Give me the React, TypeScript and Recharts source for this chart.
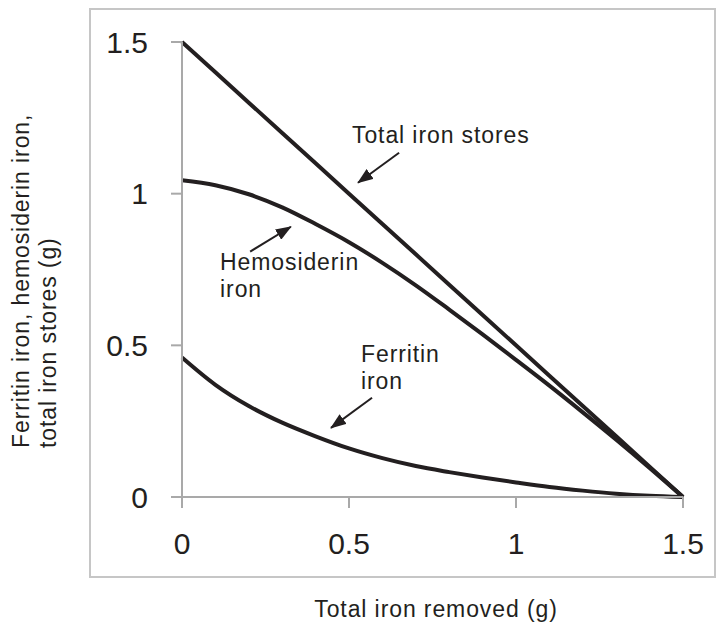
import React from 'react';
import { LineChart, Line, XAxis, YAxis, ReferenceLine, ReferenceDot } from 'recharts';

const removed = [0, 0.1, 0.2, 0.3, 0.4, 0.5, 0.6, 0.7, 0.8, 0.9, 1.0, 1.1, 1.2, 1.3, 1.4, 1.5];
const totalStores = [1.5, 1.4, 1.3, 1.2, 1.1, 1.0, 0.9, 0.8, 0.7, 0.6, 0.5, 0.4, 0.3, 0.2, 0.1, 0];
const hemosiderinIron = [1.044, 1.028, 0.998, 0.955, 0.9, 0.84, 0.772, 0.698, 0.618, 0.536, 0.452, 0.367, 0.279, 0.189, 0.096, 0];
const ferritinIron = [0.46, 0.37, 0.3, 0.245, 0.2, 0.16, 0.128, 0.102, 0.082, 0.064, 0.048, 0.033, 0.021, 0.011, 0.004, 0];
const xTicks = [0, 0.5, 1, 1.5];
const yTicks = [0, 0.5, 1, 1.5];
const xTickLabels = ['0', '0.5', '1', '1.5'];
const yTickLabels = ['0', '0.5', '1', '1.5'];

const annotations = [
  { lines: ['Total iron stores'], x: 0.509, y: 1.168 },
  { lines: ['Hemosiderin', 'iron'], x: 0.114, y: 0.749 },
  { lines: ['Ferritin', 'iron'], x: 0.536, y: 0.446 },
];
const arrows = [
  { from: { x: 0.65, y: 1.135 }, to: { x: 0.527, y: 1.036 } },
  { from: { x: 0.204, y: 0.809 }, to: { x: 0.326, y: 0.891 } },
  { from: { x: 0.569, y: 0.327 }, to: { x: 0.446, y: 0.228 } },
];

const data = removed.map((x, i) => ({
  x,
  total: totalStores[i],
  hemo: hemosiderinIron[i],
  ferr: ferritinIron[i],
}));

const FONT = '"Liberation Sans", Arial, Helvetica, sans-serif';
const INK = '#231f20';
const AXIS = '#a9a9a9';
const LABEL_SIZE = 23;
const LABEL_SPACING = 0.9;

const fmt = (labels: string[], ticks: number[]) => (v: number) => {
  const i = ticks.indexOf(v);
  return i >= 0 ? labels[i] : String(v);
};

const AnnotationShape = (lines: string[]) => (props: any) => (
  <text
    x={props.cx}
    y={props.cy}
    fontFamily={FONT}
    fontSize={LABEL_SIZE}
    letterSpacing={LABEL_SPACING}
    fill={INK}
  >
    {lines.map((l, i) => (
      <tspan key={i} x={props.cx} dy={i === 0 ? 0 : 27}>
        {l}
      </tspan>
    ))}
  </text>
);

export default function App() {
  return (
    <div style={{ position: 'absolute', left: 0, top: 0, width: 720, height: 626, background: '#fff' }}>
      <div
        style={{
          position: 'absolute',
          left: 89,
          top: 8,
          width: 627,
          height: 570,
          border: '2px solid #c6c6c6',
          boxSizing: 'border-box',
        }}
      />
      <div style={{ position: 'absolute', left: 0, top: 0 }}>
        <LineChart
          width={720}
          height={626}
          data={data}
          margin={{ top: 42, right: 37, bottom: 69, left: 100 }}
        >
          <defs>
            <marker
              id="arrowHead"
              markerWidth={16}
              markerHeight={12}
              refX={15}
              refY={6}
              orient="auto"
              markerUnits="userSpaceOnUse"
            >
              <path d="M0,0 L16,6 L0,12 z" fill={INK} />
            </marker>
          </defs>
          <XAxis
            dataKey="x"
            type="number"
            domain={[0, 1.5]}
            ticks={xTicks}
            tickFormatter={fmt(xTickLabels, xTicks)}
            height={60}
            tickSize={11}
            tickMargin={25}
            stroke={AXIS}
            strokeWidth={2}
            tick={{ fill: INK, fontSize: 30, fontFamily: FONT }}
            label={{
              content: () => (
                <text
                  x={436}
                  y={617}
                  textAnchor="middle"
                  fontFamily={FONT}
                  fontSize={LABEL_SIZE}
                  letterSpacing={LABEL_SPACING}
                  fill={INK}
                >
                  Total iron removed (g)
                </text>
              ),
            }}
          />
          <YAxis
            type="number"
            domain={[0, 1.5]}
            ticks={yTicks}
            tickFormatter={fmt(yTickLabels, yTicks)}
            width={82}
            tickSize={11}
            tickMargin={23}
            stroke={AXIS}
            strokeWidth={2}
            tick={{ fill: INK, fontSize: 30, fontFamily: FONT }}
            label={{
              content: () => (
                <g>
                  <text
                    transform="translate(29,448) rotate(-90)"
                    fontFamily={FONT}
                    fontSize={LABEL_SIZE}
                    letterSpacing={LABEL_SPACING}
                    fill={INK}
                  >
                    Ferritin iron, hemosiderin iron,
                  </text>
                  <text
                    transform="translate(56,448) rotate(-90)"
                    fontFamily={FONT}
                    fontSize={LABEL_SIZE}
                    letterSpacing={LABEL_SPACING}
                    fill={INK}
                  >
                    total iron stores (g)
                  </text>
                </g>
              ),
            }}
          />
          <Line
            dataKey="total"
            type="linear"
            stroke={INK}
            strokeWidth={4}
            dot={false}
            isAnimationActive={false}
          />
          <Line
            dataKey="hemo"
            type="monotone"
            stroke={INK}
            strokeWidth={4}
            dot={false}
            isAnimationActive={false}
          />
          <Line
            dataKey="ferr"
            type="monotone"
            stroke={INK}
            strokeWidth={4}
            dot={false}
            isAnimationActive={false}
          />
          {arrows.map((a, i) => (
            <ReferenceLine
              key={'a' + i}
              segment={[a.from, a.to]}
              stroke={INK}
              strokeWidth={2}
              markerEnd="url(#arrowHead)"
              ifOverflow="visible"
            />
          ))}
          {annotations.map((a, i) => (
            <ReferenceDot
              key={'t' + i}
              x={a.x}
              y={a.y}
              r={0}
              ifOverflow="visible"
              shape={AnnotationShape(a.lines)}
            />
          ))}
        </LineChart>
      </div>
    </div>
  );
}
